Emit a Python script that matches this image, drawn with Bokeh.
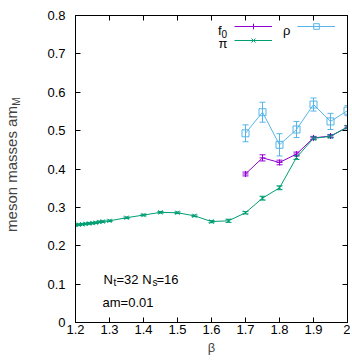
import math
from bokeh.plotting import figure
from bokeh.models import (Range1d, FixedTicker, LinearAxis, Label, Whisker, TeeHead, Title,
                          ColumnDataSource, Legend, LegendItem)
from bokeh.embed import file_html
from bokeh.resources import INLINE

# ---------------- data ----------------
beta_pi = [1.20, 1.21, 1.22, 1.23, 1.24, 1.25, 1.26, 1.27, 1.28, 1.30, 1.35, 1.40,
           1.45, 1.50, 1.55, 1.60, 1.65, 1.70, 1.75, 1.80, 1.85, 1.90, 1.95, 2.00]
pi_mass = [0.254, 0.255, 0.256, 0.257, 0.258, 0.259, 0.260, 0.262, 0.263, 0.265, 0.273, 0.280,
           0.287, 0.286, 0.278, 0.263, 0.265, 0.286, 0.324, 0.351, 0.430, 0.480, 0.485, 0.509]
pi_err = [0.002, 0.002, 0.002, 0.002, 0.002, 0.002, 0.002, 0.002, 0.002, 0.002, 0.002, 0.002,
          0.002, 0.002, 0.002, 0.003, 0.004, 0.003, 0.005, 0.005, 0.005, 0.004, 0.004, 0.004]

beta_heavy = [1.70, 1.75, 1.80, 1.85, 1.90, 1.95, 2.00]
f0_mass = [0.387, 0.429, 0.417, 0.439, 0.481, 0.486, 0.509]
f0_err = [0.005, 0.008, 0.006, 0.005, 0.004, 0.004, 0.004]
rho_mass = [0.493, 0.548, 0.463, 0.503, 0.568, 0.524, 0.552]
rho_err = [0.022, 0.026, 0.029, 0.021, 0.017, 0.021, 0.013]

x_ticks = [1.2, 1.3, 1.4, 1.5, 1.6, 1.7, 1.8, 1.9, 2.0]
x_tick_labels = ["1.2", "1.3", "1.4", "1.5", "1.6", "1.7", "1.8", "1.9", "2"]
y_ticks = [0, 0.1, 0.2, 0.3, 0.4, 0.5, 0.6, 0.7, 0.8]
y_tick_labels = ["0", "0.1", "0.2", "0.3", "0.4", "0.5", "0.6", "0.7", "0.8"]

# ---------------- styles ----------------
FONT = "Liberation Sans"
C_F0 = "#9400d3"
C_PI = "#009e73"
C_RHO = "#56b4e9"

p = figure(width=350, height=358, output_backend="svg", toolbar_location=None,
           x_range=Range1d(1.2, 2.0), y_range=Range1d(0, 0.8),
           min_border_left=70, min_border_right=3, min_border_top=15, min_border_bottom=36)
p.xgrid.visible = False
p.ygrid.visible = False
p.outline_line_color = "black"
p.background_fill_color = "white"
p.border_fill_color = "white"

bottom_ax = p.xaxis[0]
left_ax = p.yaxis[0]


def style_axis(ax, ticks, labels, show_labels, standoff):
    ax.ticker = FixedTicker(ticks=ticks)
    ax.major_label_overrides = dict(zip(ticks, labels))
    ax.major_tick_in = 5
    ax.major_tick_out = 0
    ax.minor_tick_in = 0
    ax.minor_tick_out = 0
    ax.axis_line_color = "black"
    ax.major_tick_line_color = "black"
    ax.major_label_standoff = standoff
    ax.major_label_text_font = FONT
    if show_labels:
        ax.major_label_text_font_size = "13px"
        ax.major_label_text_color = "black"
    else:
        ax.major_label_text_font_size = "1px"
        ax.major_label_text_color = None


style_axis(bottom_ax, x_ticks, x_tick_labels, True, 2)
style_axis(left_ax, y_ticks, y_tick_labels, True, 10)
top_ax = LinearAxis()
right_ax = LinearAxis()
style_axis(top_ax, x_ticks, x_tick_labels, False, 0)
style_axis(right_ax, y_ticks, y_tick_labels, False, 0)
p.add_layout(top_ax, "above")
p.add_layout(right_ax, "right")

bottom_ax.axis_label = "β"
bottom_ax.axis_label_text_font = FONT
bottom_ax.axis_label_text_font_size = "13px"
bottom_ax.axis_label_text_font_style = "normal"
bottom_ax.axis_label_standoff = 3

left_ax.axis_label = "meson masses am"
left_ax.axis_label_text_font = FONT
left_ax.axis_label_text_font_size = "15px"
left_ax.axis_label_text_font_style = "normal"
left_ax.axis_label_standoff = 24

# subscript M of the y-axis title
p.add_layout(Title(text="M", text_font=FONT, text_font_size="10px", text_font_style="normal",
                   align="right", vertical_align="bottom", offset=82, standoff=-42), "left")

# ---------------- series ----------------
def add_series(xs, ys, errs, color, marker, size):
    src = ColumnDataSource(dict(x=xs, y=ys,
                                lo=[v - e for v, e in zip(ys, errs)],
                                hi=[v + e for v, e in zip(ys, errs)]))
    lr = p.line("x", "y", source=src, line_color=color, line_width=1)
    sr = p.scatter("x", "y", source=src, marker=marker, size=size, line_color=color,
                   fill_color=None, line_width=1)
    w = Whisker(base="x", lower="lo", upper="hi", source=src, line_color=color, line_width=1,
                upper_head=TeeHead(size=6, line_color=color, line_width=1),
                lower_head=TeeHead(size=6, line_color=color, line_width=1))
    p.add_layout(w)
    return lr, sr


f0_r = add_series(beta_heavy, f0_mass, f0_err, C_F0, "cross", 6)
rho_r = add_series(beta_heavy, rho_mass, rho_err, C_RHO, "square", 7)
pi_r = add_series(beta_pi, pi_mass, pi_err, C_PI, "x", 6)

# ---------------- legend ----------------
legend = Legend(items=[LegendItem(label=" ", renderers=list(f0_r)),
                       LegendItem(label=" ", renderers=list(pi_r)),
                       LegendItem(label=" ", renderers=list(rho_r))],
                location=(159, 275), orientation="vertical", nrows=2,
                glyph_width=38, glyph_height=14, label_width=25, label_height=14,
                label_standoff=0, spacing=0, padding=0, margin=0,
                label_text_font_size="1px", label_text_color=None,
                border_line_color=None, background_fill_alpha=0)
p.add_layout(legend)


def lab(x, y, text, size="13px", align="left", baseline="alphabetic"):
    p.add_layout(Label(x=x, y=y, x_units="screen", y_units="screen", text=text,
                       text_font=FONT, text_font_size=size, text_color="black",
                       text_align=align, text_baseline=baseline))


# legend texts
lab(146, 292, "f", align="right")
lab(146, 289, "0", size="10px")
lab(215, 292, "ρ", align="right")
lab(152, 279, "π", align="right")

# annotation texts
lab(28, 43, "N")
lab(38, 40, "t", size="10px")
lab(41, 43, "=32 N")
lab(77, 40, "s", size="10px")
lab(81, 43, "=16")
lab(27, 20, "am=0.01")

open("out.html", "w").write(file_html(p, INLINE))
